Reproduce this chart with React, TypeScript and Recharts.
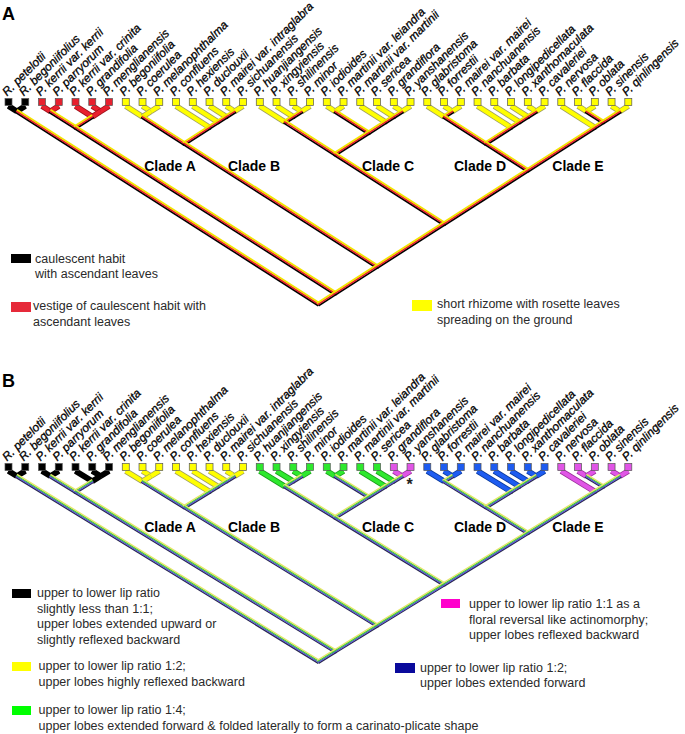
import React from 'react';
import { ComposedChart, Scatter, XAxis, YAxis, ReferenceLine } from 'recharts';

const taxa = [
  'R. petelotii', 'R. begoniifolius', 'P. kerrii var. kerrii', 'P. parryorum', 'P. kerrii var. crinita',
  'P. grandifolia', 'P. menglianensis', 'P. begoniifolia', 'P. coerulea', 'P. melanophthalma',
  'P. confluens', 'P. hexiensis', 'P. duclouxii', 'P. mairei var. intraglabra', 'P. sichuanensis',
  'P. huanjiangensis', 'P. xingyiensis', 'P. shilinensis', 'P. minor', 'P. iodioides',
  'P. martinii var. leiandra', 'P. martinii var. martinii', 'P. sericea', 'P. grandiflora', 'P. yanshanensis',
  'P. glabristoma', 'P. forrestii', 'P. mairei var. mairei', 'P. nanchuanensis', 'P. barbata',
  'P. longipedicellata', 'P. xanthomaculata', 'P. cavaleriei', 'P. nervosa', 'P. flaccida',
  'P. oblata', 'P. sinensis', 'P. qinlingensis',
];

// Panel A: habit states per taxon
const habitStates = [
  'caul', 'caul', 'vest', 'vest', 'vest', 'vest', 'vest', 'rhiz', 'rhiz', 'rhiz',
  'rhiz', 'rhiz', 'rhiz', 'rhiz', 'rhiz', 'rhiz', 'rhiz', 'rhiz', 'rhiz', 'rhiz',
  'rhiz', 'rhiz', 'rhiz', 'rhiz', 'rhiz', 'rhiz', 'rhiz', 'rhiz', 'rhiz', 'rhiz',
  'rhiz', 'rhiz', 'rhiz', 'rhiz', 'rhiz', 'rhiz', 'rhiz', 'rhiz',
];

// Panel B: lip ratio states per taxon
const lipStates = [
  'k', 'k', 'k', 'k', 'k', 'k', 'k', 'y', 'y', 'y',
  'y', 'y', 'y', 'y', 'y', 'g', 'g', 'g', 'g', 'g',
  'g', 'g', 'g', 'm', 'm', 'b', 'b', 'b', 'b', 'b',
  'b', 'b', 'b', 'm', 'm', 'm', 'm', 'm',
];

// Topology (tip indices)
const outgroup = [0, 1];
const kerriiGroup = [[2, 3], [4, [5, 6]]];
const cladeA = [[7, [8, 9]], [10, [11, [12, [13, 14]]]]];
const cladeB = [15, [16, [17, 18]]];
const cladeC = [[19, 20], [21, [22, [23, 24]]]];
const cladeD = [[25, [26, 27]], [28, [29, [30, [31, 32]]]]];
const cladeE = [33, [[34, 35], [36, 37]]];
const tree = [outgroup, [kerriiGroup, [cladeA, [[cladeB, cladeC], [cladeD, cladeE]]]]];

// internal branches drawn in a single (unequivocal) colour
const solidInternal = ['5-6', '8-9'];
const reversalMarked = ['P. yanshanensis'];

const cladeNames = ['Clade A', 'Clade B', 'Clade C', 'Clade D', 'Clade E'];

const habitColors: Record<string, string> = { caul: '#000000', vest: '#e8202e', rhiz: '#ffff00' };
const habitEdges: Record<string, string> = { caul: '#000000', vest: '#a0101a', rhiz: '#a0a060' };
const lipColors: Record<string, string> = { k: '#000000', y: '#ffff00', g: '#2ee82e', m: '#e055e6', b: '#1e5cf0' };
const lipEdges: Record<string, string> = { k: '#000000', y: '#a0a060', g: '#1a9a1a', m: '#9a309a', b: '#0a3a9a' };

const habitStripes = ['#000000', '#e8202e', '#f2e400'];
const lipStripes = ['#2a2a50', '#5a50d8', '#3ccc3c', '#e6e66a'];

const FONT = 'Liberation Sans, Arial, sans-serif';

type Seg = { x1: number; y1: number; x2: number; y2: number; lo: number; hi: number; leaf: boolean };

function layoutTree(node: any, segs: Seg[]): { lo: number; hi: number; x: number; d: number } {
  if (typeof node === 'number') return { lo: node, hi: node, x: node, d: 0 };
  const kids = node.map((c: any) => layoutTree(c, segs));
  const lo = Math.min(...kids.map((k: any) => k.lo));
  const hi = Math.max(...kids.map((k: any) => k.hi));
  const x = (lo + hi) / 2;
  const d = (hi - lo) / 2;
  kids.forEach((k: any) => segs.push({ x1: x, y1: d, x2: k.x, y2: k.d, lo: k.lo, hi: k.hi, leaf: k.lo === k.hi }));
  return { lo, hi, x, d };
}

function solidBar(p: any, fill: string, edge: string) {
  const { x1, y1, x2, y2 } = p;
  return (
    <g>
      <line x1={x1} y1={y1} x2={x2} y2={y2} stroke={edge} strokeWidth={5.8} />
      <line x1={x1} y1={y1} x2={x2} y2={y2} stroke={fill} strokeWidth={4.2} />
    </g>
  );
}

function stripedBar(p: any, colors: string[], w: number) {
  const { x1, y1, x2, y2 } = p;
  const dx = x2 - x1;
  const dy = y2 - y1;
  const len = Math.hypot(dx, dy) || 1;
  let nx = -dy / len;
  let ny = dx / len;
  if (ny > 0) { nx = -nx; ny = -ny; }
  const ux = dx / len, uy = dy / len;
  const ext = 0.8;
  const n = colors.length;
  return (
    <g>
      {colors.map((c, k) => {
        const o = (k - (n - 1) / 2) * w;
        return (
          <line key={k}
            x1={x1 + nx * o - ux * ext} y1={y1 + ny * o - uy * ext}
            x2={x2 + nx * o + ux * ext} y2={y2 + ny * o + uy * ext}
            stroke={c} strokeWidth={w + 0.25} />
        );
      })}
    </g>
  );
}

function tipShape(p: any, colors: Record<string, string>) {
  const { cx, cy, payload } = p;
  const fill = colors[payload.state];
  const tx = cx - 1.5;
  const ty = cy - 9.5;
  return (
    <g>
      <rect x={cx - 3.5} y={cy - 7.5} width={7} height={7} fill={fill} stroke="#555" strokeWidth={0.7} />
      <text x={tx} y={ty} transform={`rotate(-45 ${tx} ${ty})`} fontSize={11.8} fontStyle="italic"
        fontFamily={FONT} fill="#000" stroke="#000" strokeWidth={0.3}>{payload.name}</text>
      {payload.mark ? (
        <text x={cx - 1} y={cy + 19} textAnchor="middle" fontSize={16} fontWeight="bold" fontFamily={FONT} fill="#222">*</text>
      ) : null}
    </g>
  );
}

function TreePanel(props: {
  states: string[]; colors: Record<string, string>; edges: Record<string, string>;
  stripes: string[]; stripeW: number; height: number; bottom: number; marks: string[];
}) {
  const { states, colors, edges, stripes, stripeW, height, bottom, marks } = props;
  const segs: Seg[] = [];
  layoutTree(tree, segs);
  const tips = taxa.map((name, i) => ({ x: i, y: 0, name, state: states[i], mark: marks.includes(name) }));
  const terminal = segs.filter((s) => s.leaf);
  const internal = segs.filter((s) => !s.leaf);
  return (
    <ComposedChart width={685} height={height} margin={{ top: 106, left: 8.5, right: 56.7, bottom }}
      style={{ overflow: 'visible' }}>
      <XAxis type="number" dataKey="x" domain={[0, 37]} hide />
      <YAxis type="number" dataKey="y" domain={[0, 18.5]} reversed hide />
      {terminal.map((s, k) => (
        <ReferenceLine key={'t' + k} segment={[{ x: s.x1, y: s.y1 }, { x: s.x2, y: s.y2 }]} ifOverflow="visible"
          shape={(p: any) => solidBar(p, colors[states[s.lo]], edges[states[s.lo]])} />
      ))}
      {internal.filter((s) => solidInternal.includes(`${s.lo}-${s.hi}`)).map((s, k) => (
        <ReferenceLine key={'s' + k} segment={[{ x: s.x1, y: s.y1 }, { x: s.x2, y: s.y2 }]} ifOverflow="visible"
          shape={(p: any) => solidBar(p, colors[states[s.lo]], edges[states[s.lo]])} />
      ))}
      {internal.filter((s) => !solidInternal.includes(`${s.lo}-${s.hi}`)).map((s, k) => (
        <ReferenceLine key={'i' + k} segment={[{ x: s.x1, y: s.y1 }, { x: s.x2, y: s.y2 }]} ifOverflow="visible"
          shape={(p: any) => stripedBar(p, stripes, stripeW)} />
      ))}
      <Scatter data={tips} dataKey="y" isAnimationActive={false} shape={(p: any) => tipShape(p, colors)} />
    </ComposedChart>
  );
}

const cladeLabelX = [170, 254, 388, 480, 578];

function LegendItem({ x, y, w, h, color, tx, lines, base }: any) {
  return (
    <g>
      <rect x={x} y={y} width={w} height={h} fill={color} />
      {lines.map((t: string, i: number) => (
        <text key={i} x={tx} y={base[i]} fontSize={12.5} fontFamily={FONT} fill="#2a2a2a">{t}</text>
      ))}
    </g>
  );
}

export default function App() {
  return (
    <div style={{ position: 'absolute', left: 0, top: 0, width: 685, height: 734, background: '#fff' }}>
      <div style={{ position: 'absolute', left: 0, top: 0 }}>
        <TreePanel states={habitStates} colors={habitColors} edges={habitEdges} stripes={habitStripes}
          stripeW={1.5} height={367} bottom={63} marks={[]} />
      </div>
      <div style={{ position: 'absolute', left: 0, top: 365 }}>
        <TreePanel states={lipStates} colors={lipColors} edges={lipEdges} stripes={lipStripes}
          stripeW={1.1} height={369} bottom={72.5} marks={reversalMarked} />
      </div>
      <svg width={685} height={734} style={{ position: 'absolute', left: 0, top: 0, pointerEvents: 'none' }}>
        <text x={2} y={20} fontSize={18} fontWeight="bold" fontFamily={FONT}>A</text>
        <text x={2} y={387} fontSize={18} fontWeight="bold" fontFamily={FONT}>B</text>
        {cladeNames.map((c, i) => (
          <text key={'a' + i} x={cladeLabelX[i]} y={171} textAnchor="middle" fontSize={14} fontWeight="bold" fontFamily={FONT}>{c}</text>
        ))}
        {cladeNames.map((c, i) => (
          <text key={'b' + i} x={cladeLabelX[i]} y={532} textAnchor="middle" fontSize={14} fontWeight="bold" fontFamily={FONT}>{c}</text>
        ))}
        <LegendItem x={11} y={254} w={20} h={9} color="#000" tx={35}
          lines={['caulescent habit', 'with ascendant leaves']} base={[263, 278]} />
        <LegendItem x={11} y={302} w={20} h={10} color="#e62a3a" tx={33}
          lines={['vestige of caulescent habit with', 'ascendant leaves']} base={[310, 326]} />
        <LegendItem x={412} y={300} w={20} h={11} color="#ffff00" tx={437}
          lines={['short rhizome with rosette leaves', 'spreading on the ground']} base={[308, 324]} />

        <LegendItem x={12} y={589} w={19} h={9} color="#000" tx={37}
          lines={['upper to lower lip ratio', 'slightly less than 1:1;', 'upper lobes extended upward or', 'slightly reflexed backward']}
          base={[597, 613, 628, 644]} />
        <LegendItem x={12} y={662} w={19} h={9} color="#ffff00" tx={38.5}
          lines={['upper to lower lip ratio 1:2;', 'upper lobes highly reflexed backward']} base={[670, 686]} />
        <LegendItem x={12} y={706} w={19} h={9} color="#00ff00" tx={38.5}
          lines={['upper to lower lip ratio 1:4;', 'upper lobes extended forward & folded laterally to form a carinato-plicate shape']}
          base={[714, 730]} />
        <LegendItem x={441} y={599} w={19} h={9} color="#ff00cc" tx={469}
          lines={['upper to lower lip ratio 1:1 as a', 'floral reversal like actinomorphy;', 'upper lobes reflexed backward']}
          base={[608, 624, 639]} />
        <LegendItem x={395} y={663} w={20} h={10} color="#0a0a9c" tx={420}
          lines={['upper to lower lip ratio 1:2;', 'upper lobes extended forward']} base={[672, 687]} />
      </svg>
    </div>
  );
}
